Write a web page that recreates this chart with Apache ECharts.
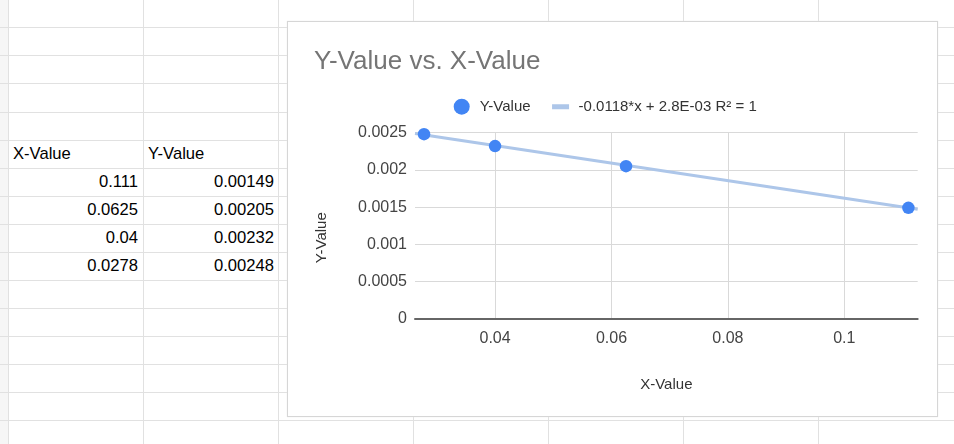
<!DOCTYPE html>
<html>
<head>
<meta charset="utf-8">
<script src="https://cdn.jsdelivr.net/npm/echarts@6/dist/echarts.min.js"></script>
<style>
  html, body { margin: 0; padding: 0; background: #fff; }
  body { width: 954px; height: 444px; position: relative; overflow: hidden; font-family: "Liberation Sans", Arial, sans-serif; }
  .gutter { position: absolute; left: 0; top: 0; width: 8px; height: 444px; background: #f6f6f6; }
  .hline { position: absolute; left: 0; width: 954px; height: 1px; background: #e1e1e1; }
  .vline { position: absolute; top: 0; width: 1px; height: 444px; background: #e1e1e1; }
  .cell { position: absolute; font-size: 16.6px; line-height: 16px; color: #000; white-space: nowrap; }
  .chart-box { position: absolute; left: 287px; top: 21px; width: 651px; height: 396px; box-sizing: border-box; background: #fff; border: 1px solid #d6d6d6; box-shadow: 0 0 1px #e6e6e6; }
  #chart { position: absolute; left: 0; top: 0; width: 954px; height: 444px; }
</style>
</head>
<body>
<div id="sheet"></div>
<div class="chart-box"></div>
<div id="chart"></div>
<script>
const $ = (id) => document.getElementById(id);

// data
const headers = ["X-Value", "Y-Value"];
const xValues = [0.111, 0.0625, 0.04, 0.0278];
const yValues = [0.00149, 0.00205, 0.00232, 0.00248];
const chartTitle = "Y-Value vs. X-Value";
const trendName = "-0.0118*x + 2.8E-03 R² = 1";
const trendX = [0.02625, 0.1126];
const trendY = [0.00249, 0.001471];
const xRange = [0.02625, 0.1126];
const yRange = [0, 0.0025];
const yStep = 0.0005;

// spreadsheet background
const colLines = [8, 143, 278, 413, 548, 683, 818];
const rowTop = 27.3, rowH = 28.07;

function drawSheet() {
  const sheet = $("sheet");
  let html = `<div class="gutter"></div>`;
  for (let k = 0; k < 16; k++) html += `<div class="hline" style="top:${(rowTop + k * rowH).toFixed(1)}px"></div>`;
  for (const x of colLines) html += `<div class="vline" style="left:${x}px"></div>`;
  // header row sits in row 5, values below it; baseline ~8px above the row bottom line
  const headBottom = rowTop + 5 * rowH;
  const top = (bottom) => (bottom - 8 - 13.5).toFixed(1);
  html += `<div class="cell" style="left:13px;top:${top(headBottom)}px">${headers[0]}</div>`;
  html += `<div class="cell" style="left:148px;top:${top(headBottom)}px">${headers[1]}</div>`;
  xValues.forEach((xv, i) => {
    const b = headBottom + (i + 1) * rowH;
    html += `<div class="cell" style="right:${954 - 138}px;top:${top(b)}px">${String(xv)}</div>`;
    html += `<div class="cell" style="right:${954 - 274}px;top:${top(b)}px">${String(yValues[i])}</div>`;
  });
  sheet.innerHTML = html;
}

drawSheet();

const font = "Liberation Sans";
const points = xValues.map((x, i) => [x, yValues[i]]);
const trend = trendX.map((x, i) => [x, trendY[i]]);

const chart = echarts.init($("chart"), null, { renderer: "canvas" });
chart.setOption({
  animation: false,
  title: {
    text: chartTitle,
    left: 309,
    top: 44,
    textStyle: { fontFamily: font, fontSize: 26, fontWeight: "normal", color: "#757575" }
  },
  legend: {
    left: 448.7,
    top: 93.7,
    itemWidth: 26,
    itemHeight: 16,
    itemGap: 17,
    textStyle: { fontFamily: font, fontSize: 15, color: "#333" },
    data: [
      { name: "Y-Value", icon: "circle", itemStyle: { opacity: 1 } },
      { name: trendName, icon: "path://M0,0L0,0ZM4.5,5.5H21.5V10.5H4.5ZM26,16L26,16Z" }
    ]
  },
  grid: { left: 415, right: 36.3, top: 132.7, bottom: 125.3, containLabel: false },
  xAxis: {
    type: "value",
    min: xRange[0],
    max: xRange[1],
    name: "X-Value",
    nameLocation: "middle",
    nameGap: 59,
    nameTextStyle: { fontFamily: font, fontSize: 15, color: "#333" },
    axisLine: { show: true, onZero: false, lineStyle: { color: "#666", width: 2 } },
    axisTick: { show: false },
    axisLabel: { fontFamily: font, fontSize: 16, color: "#444", margin: 12, showMinLabel: false, showMaxLabel: false },
    splitLine: { show: true, showMinLine: false, showMaxLine: false, lineStyle: { color: "#d9d9d9", width: 1 } }
  },
  yAxis: {
    type: "value",
    min: yRange[0],
    max: yRange[1],
    interval: yStep,
    name: "Y-Value",
    nameLocation: "middle",
    nameRotate: 90,
    nameGap: 86,
    nameTextStyle: { fontFamily: font, fontSize: 15, color: "#333", padding: [0, 24, 0, 0] },
    axisLine: { show: false },
    axisTick: { show: false },
    axisLabel: { fontFamily: font, fontSize: 16, color: "#444", margin: 8 },
    splitLine: { show: true, lineStyle: { color: "#d9d9d9", width: 1 } }
  },
  series: [
    {
      name: trendName,
      type: "line",
      data: trend,
      symbol: "none",
      color: "#adc6e9",
      lineStyle: { width: 3, color: "#adc6e9" },
      z: 2
    },
    {
      name: "Y-Value",
      type: "scatter",
      data: points,
      symbolSize: 12.5,
      color: "#4285f4",
      itemStyle: { color: "#4285f4", opacity: 1 },
      z: 3
    }
  ]
});
</script>
</body>
</html>
